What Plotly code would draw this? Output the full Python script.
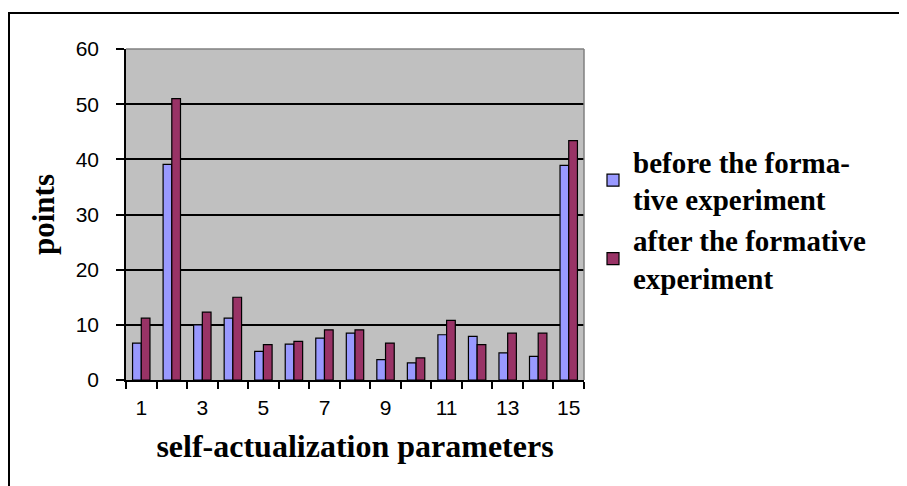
import plotly.graph_objects as go

categories = list(range(1, 16))
before = [6.7, 39.1, 10.0, 11.2, 5.2, 6.5, 7.6, 8.5, 3.7, 3.1, 8.2, 7.9, 4.9, 4.3, 38.9]
after = [11.2, 51.0, 12.3, 15.0, 6.4, 7.0, 9.1, 9.1, 6.7, 4.0, 10.8, 6.4, 8.5, 8.5, 43.4]
x_tick_vals = [1, 3, 5, 7, 9, 11, 13, 15]
y_tick_vals = [0, 10, 20, 30, 40, 50, 60]
series_names = ["before the forma-<br>tive experiment", "after the formative<br>experiment"]

W, H = 907, 486
OFF = 8  # page body margin
ML, MR, MT, MB = 126 - OFF, 907 - (584 - OFF), 49 - OFF, 486 - (380 - OFF)
PW, PH = W - ML - MR, H - MT - MB

def px_to_paper_x(px):
    return (px - OFF - ML) / PW

def px_to_paper_y(py):
    return (H - MB - (py - OFF)) / PH

fig = go.Figure()
fig.add_trace(go.Bar(x=categories, y=before, name=series_names[0],
                     marker=dict(color="#9999FF", line=dict(color="black", width=1.2))))
fig.add_trace(go.Bar(x=categories, y=after, name=series_names[1],
                     marker=dict(color="#993366", line=dict(color="black", width=1.2))))

fig.update_layout(
    width=W, height=H,
    margin=dict(l=ML, r=MR, t=MT, b=MB),
    paper_bgcolor="white",
    plot_bgcolor="#C0C0C0",
    barmode="group",
    bargap=0.43,
    bargroupgap=0,
    font=dict(family="Liberation Sans, Arial", color="black"),
    legend=dict(
        x=px_to_paper_x(593), y=px_to_paper_y(136), xanchor="left", yanchor="top",
        font=dict(family="Liberation Serif, Times New Roman", size=29, color="black", weight="bold"),
        bgcolor="rgba(0,0,0,0)", tracegroupgap=0, itemwidth=30,
    ),
    xaxis=dict(
        range=[0.5, 15.5],
        tickmode="array", tickvals=x_tick_vals,
        ticks="", ticklabelstandoff=8,
        tickfont=dict(size=21, family="Liberation Sans, Arial"),
        minor=dict(tick0=0.5, dtick=1, ticks="outside", ticklen=7, tickcolor="black", tickwidth=1.5, showgrid=False),
        showline=True, linecolor="black", linewidth=1.5,
        showgrid=False, zeroline=False,
        title=dict(text="<b>self-actualization parameters</b>",
                   font=dict(family="Liberation Serif, Times New Roman", size=32, color="black"),
                   standoff=17),
    ),
    yaxis=dict(
        range=[0, 60],
        tickmode="array", tickvals=y_tick_vals,
        ticks="outside", ticklen=8, tickcolor="black", tickwidth=1.5,
        tickfont=dict(size=21, family="Liberation Sans, Arial"),
        ticklabelstandoff=13,
        showline=True, linecolor="black", linewidth=1.5,
        showgrid=True, gridcolor="black", gridwidth=1.8,
        zeroline=False,
        title=dict(text="<b>points</b>",
                   font=dict(family="Liberation Serif, Times New Roman", size=31, color="black"),
                   standoff=12),
    ),
)

# plot area border (top/right) in gray
fig.add_shape(type="line", xref="paper", yref="paper", x0=0, x1=1, y0=1, y1=1,
              line=dict(color="#808080", width=1.5))
fig.add_shape(type="line", xref="paper", yref="paper", x0=1, x1=1, y0=0, y1=1,
              line=dict(color="#808080", width=1.5))
# outer chart border
fig.add_shape(type="rect", xref="paper", yref="paper",
              x0=px_to_paper_x(9), x1=px_to_paper_x(905),
              y0=px_to_paper_y(500), y1=px_to_paper_y(13),
              line=dict(color="black", width=2), fillcolor="rgba(0,0,0,0)", layer="above")

fig.write_html("out.html")
